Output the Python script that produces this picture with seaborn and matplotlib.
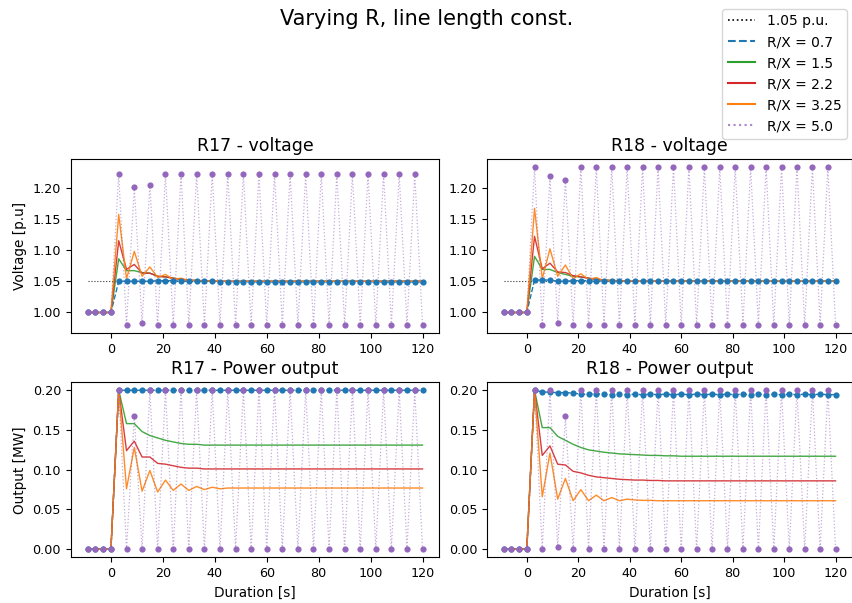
import numpy as np
import matplotlib
matplotlib.use("Agg")
import matplotlib.pyplot as plt
import seaborn as sns
from matplotlib.lines import Line2D

# ==============================
# DATA
# ==============================
t = list(range(-9, 121, 3))  # sampling times [s]

labels = ["R/X = 0.7", "R/X = 1.5", "R/X = 2.2", "R/X = 3.25", "R/X = 5.0"]
ref_level = 1.05

pre_v = [1.0, 1.0, 1.0, 1.0]
pre_p = [0.0, 0.0, 0.0, 0.0]

# R17 voltage
v17_07 = pre_v + [1.050, 1.050, 1.050, 1.050, 1.050, 1.051, 1.051, 1.051, 1.050, 1.050,
                  1.050, 1.050, 1.050, 1.049, 1.049, 1.049, 1.049, 1.049, 1.049, 1.049,
                  1.049, 1.049, 1.049, 1.049, 1.049, 1.049, 1.049, 1.049, 1.049, 1.049,
                  1.049, 1.049, 1.049, 1.049, 1.049, 1.049, 1.049, 1.049, 1.049, 1.049]
v17_15 = pre_v + [1.086, 1.067, 1.067, 1.064, 1.063, 1.058, 1.057, 1.055, 1.053, 1.052,
                  1.051, 1.051, 1.050, 1.050, 1.050, 1.050, 1.050, 1.050, 1.050, 1.050,
                  1.050, 1.050, 1.050, 1.050, 1.050, 1.050, 1.050, 1.050, 1.050, 1.050,
                  1.050, 1.050, 1.050, 1.050, 1.050, 1.050, 1.050, 1.050, 1.050, 1.050]
v17_22 = pre_v + [1.115, 1.069, 1.077, 1.063, 1.063, 1.058, 1.057, 1.055, 1.053, 1.052,
                  1.051, 1.051, 1.050, 1.050, 1.050, 1.050, 1.050, 1.050, 1.050, 1.050,
                  1.050, 1.050, 1.050, 1.050, 1.050, 1.050, 1.050, 1.050, 1.050, 1.050,
                  1.050, 1.050, 1.050, 1.050, 1.050, 1.050, 1.050, 1.050, 1.050, 1.050]
v17_325 = pre_v + [1.157, 1.054, 1.098, 1.058, 1.073, 1.056, 1.061, 1.053, 1.055, 1.051,
                   1.052, 1.050, 1.051, 1.050, 1.050, 1.050, 1.050, 1.050, 1.050, 1.050,
                   1.050, 1.050, 1.050, 1.050, 1.050, 1.050, 1.050, 1.050, 1.050, 1.050,
                   1.050, 1.050, 1.050, 1.050, 1.050, 1.050, 1.050, 1.050, 1.050, 1.050]
v17_50 = pre_v + [1.222, 0.980, 1.201, 0.983, 1.205, 0.980, 1.222, 0.980, 1.222, 0.980,
                  1.222, 0.980, 1.222, 0.980, 1.222, 0.980, 1.222, 0.980, 1.222, 0.980,
                  1.222, 0.980, 1.222, 0.980, 1.222, 0.980, 1.222, 0.980, 1.222, 0.980,
                  1.222, 0.980, 1.222, 0.980, 1.222, 0.980, 1.222, 0.980, 1.222, 0.980]

# R18 voltage
v18_07 = pre_v + [1.052, 1.052, 1.052, 1.050, 1.050, 1.051, 1.051, 1.051, 1.050, 1.050,
                  1.050, 1.050, 1.050, 1.050, 1.050, 1.050, 1.050, 1.050, 1.050, 1.050,
                  1.050, 1.050, 1.050, 1.050, 1.050, 1.050, 1.050, 1.050, 1.050, 1.050,
                  1.050, 1.050, 1.050, 1.050, 1.050, 1.050, 1.050, 1.050, 1.050, 1.050]
v18_15 = pre_v + [1.090, 1.069, 1.069, 1.064, 1.061, 1.058, 1.057, 1.055, 1.053, 1.052,
                  1.051, 1.051, 1.050, 1.050, 1.050, 1.050, 1.050, 1.050, 1.050, 1.050,
                  1.050, 1.050, 1.050, 1.050, 1.050, 1.050, 1.050, 1.050, 1.050, 1.050,
                  1.050, 1.050, 1.050, 1.050, 1.050, 1.050, 1.050, 1.050, 1.050, 1.050]
v18_22 = pre_v + [1.122, 1.070, 1.079, 1.065, 1.064, 1.059, 1.057, 1.055, 1.053, 1.052,
                  1.051, 1.051, 1.050, 1.050, 1.050, 1.050, 1.050, 1.050, 1.050, 1.050,
                  1.050, 1.050, 1.050, 1.050, 1.050, 1.050, 1.050, 1.050, 1.050, 1.050,
                  1.050, 1.050, 1.050, 1.050, 1.050, 1.050, 1.050, 1.050, 1.050, 1.050]
v18_325 = pre_v + [1.167, 1.054, 1.102, 1.058, 1.076, 1.054, 1.062, 1.053, 1.056, 1.051,
                   1.052, 1.050, 1.051, 1.050, 1.050, 1.050, 1.050, 1.050, 1.050, 1.050,
                   1.050, 1.050, 1.050, 1.050, 1.050, 1.050, 1.050, 1.050, 1.050, 1.050,
                   1.050, 1.050, 1.050, 1.050, 1.050, 1.050, 1.050, 1.050, 1.050, 1.050]
v18_50 = pre_v + [1.233, 0.980, 1.218, 0.983, 1.212, 0.980, 1.233, 0.980, 1.233, 0.980,
                  1.233, 0.980, 1.233, 0.980, 1.233, 0.980, 1.233, 0.980, 1.233, 0.980,
                  1.233, 0.980, 1.233, 0.980, 1.233, 0.980, 1.233, 0.980, 1.233, 0.980,
                  1.233, 0.980, 1.233, 0.980, 1.233, 0.980, 1.233, 0.980, 1.233, 0.980]

# R17 power output
p17_07 = pre_p + [0.200] * 40
p17_15 = pre_p + [0.200, 0.158, 0.158, 0.148, 0.143, 0.140, 0.137, 0.135, 0.133, 0.132,
                  0.132, 0.131, 0.131, 0.131, 0.131, 0.131, 0.131, 0.131, 0.131, 0.131,
                  0.131, 0.131, 0.131, 0.131, 0.131, 0.131, 0.131, 0.131, 0.131, 0.131,
                  0.131, 0.131, 0.131, 0.131, 0.131, 0.131, 0.131, 0.131, 0.131, 0.131]
p17_22 = pre_p + [0.200, 0.124, 0.136, 0.116, 0.116, 0.108, 0.107, 0.105, 0.103, 0.102,
                  0.102, 0.101, 0.101, 0.101, 0.101, 0.101, 0.101, 0.101, 0.101, 0.101,
                  0.101, 0.101, 0.101, 0.101, 0.101, 0.101, 0.101, 0.101, 0.101, 0.101,
                  0.101, 0.101, 0.101, 0.101, 0.101, 0.101, 0.101, 0.101, 0.101, 0.101]
p17_325 = pre_p + [0.200, 0.076, 0.128, 0.073, 0.099, 0.072, 0.087, 0.074, 0.082, 0.074,
                   0.079, 0.075, 0.078, 0.076, 0.077, 0.077, 0.077, 0.077, 0.077, 0.077,
                   0.077, 0.077, 0.077, 0.077, 0.077, 0.077, 0.077, 0.077, 0.077, 0.077,
                   0.077, 0.077, 0.077, 0.077, 0.077, 0.077, 0.077, 0.077, 0.077, 0.077]
p17_50 = pre_p + [0.200, 0.000, 0.167, 0.000, 0.200, 0.000, 0.200, 0.000, 0.200, 0.000,
                  0.200, 0.000, 0.200, 0.000, 0.200, 0.000, 0.200, 0.000, 0.200, 0.000,
                  0.200, 0.000, 0.200, 0.000, 0.200, 0.000, 0.200, 0.000, 0.200, 0.000,
                  0.200, 0.000, 0.200, 0.000, 0.200, 0.000, 0.200, 0.000, 0.200, 0.000]

# R18 power output
p18_07 = pre_p + [0.200, 0.198, 0.1975, 0.197, 0.197, 0.1965, 0.195, 0.195, 0.1955, 0.195,
                  0.1945, 0.195, 0.1945, 0.195, 0.1945, 0.195, 0.1945, 0.195, 0.1945, 0.195,
                  0.1945, 0.195, 0.1945, 0.195, 0.1945, 0.195, 0.1945, 0.195, 0.1945, 0.195,
                  0.1945, 0.195, 0.1945, 0.195, 0.1945, 0.195, 0.1945, 0.195, 0.1945, 0.1945]
p18_15 = pre_p + [0.200, 0.153, 0.153, 0.142, 0.137, 0.132, 0.128, 0.125, 0.1235, 0.122,
                  0.121, 0.120, 0.1195, 0.119, 0.1185, 0.118, 0.118, 0.1175, 0.1175, 0.117,
                  0.117, 0.117, 0.117, 0.117, 0.117, 0.117, 0.117, 0.117, 0.117, 0.117,
                  0.117, 0.117, 0.117, 0.117, 0.117, 0.117, 0.117, 0.117, 0.117, 0.117]
p18_22 = pre_p + [0.200, 0.118, 0.130, 0.107, 0.106, 0.098, 0.096, 0.093, 0.091, 0.090,
                  0.089, 0.088, 0.0875, 0.087, 0.087, 0.0865, 0.0865, 0.086, 0.086, 0.086,
                  0.086, 0.086, 0.086, 0.086, 0.086, 0.086, 0.086, 0.086, 0.086, 0.086,
                  0.086, 0.086, 0.086, 0.086, 0.086, 0.086, 0.086, 0.086, 0.086, 0.086]
p18_325 = pre_p + [0.200, 0.066, 0.121, 0.063, 0.089, 0.061, 0.075, 0.061, 0.068, 0.061,
                   0.065, 0.061, 0.063, 0.062, 0.0615, 0.0615, 0.061, 0.061, 0.061, 0.061,
                   0.061, 0.061, 0.061, 0.061, 0.061, 0.061, 0.061, 0.061, 0.061, 0.061,
                   0.061, 0.061, 0.061, 0.061, 0.061, 0.061, 0.061, 0.061, 0.061, 0.061]
p18_50 = pre_p + [0.200, 0.000, 0.200, 0.003, 0.167, 0.000, 0.200, 0.000, 0.200, 0.000,
                  0.200, 0.000, 0.200, 0.000, 0.200, 0.000, 0.200, 0.000, 0.200, 0.000,
                  0.200, 0.000, 0.200, 0.000, 0.200, 0.000, 0.200, 0.000, 0.200, 0.000,
                  0.200, 0.000, 0.200, 0.000, 0.200, 0.000, 0.200, 0.000, 0.200, 0.000]

# ==============================
# STYLE
# ==============================
colors = ["tab:blue", "tab:green", "tab:red", "tab:orange", "tab:purple"]
styles = ["--", "-", "-", "-", ":"]
markers = ["o", None, None, None, "o"]
widths = [1.0, 1.0, 1.0, 1.0, 0.9]
alphas = [1.0, 0.9, 0.9, 0.9, 0.55]

plt.rcParams["font.family"] = ["DejaVu Sans"]

fig = plt.figure(figsize=(8.53, 6.03), dpi=100)
ax_v17 = fig.add_axes([0.083, 0.448, 0.432, 0.288])
ax_v18 = fig.add_axes([0.571, 0.448, 0.428, 0.288])
ax_p17 = fig.add_axes([0.083, 0.076, 0.432, 0.290])
ax_p18 = fig.add_axes([0.571, 0.076, 0.428, 0.290])
ax_v18.sharey(ax_v17)
ax_p18.sharey(ax_p17)

panels = [
    (ax_v17, "R17 - voltage", [v17_07, v17_15, v17_22, v17_325, v17_50], True),
    (ax_v18, "R18 - voltage", [v18_07, v18_15, v18_22, v18_325, v18_50], True),
    (ax_p17, "R17 - Power output", [p17_07, p17_15, p17_22, p17_325, p17_50], False),
    (ax_p18, "R18 - Power output", [p18_07, p18_15, p18_22, p18_325, p18_50], False),
]

for ax, title, series, is_volt in panels:
    if is_volt:
        sns.lineplot(x=t, y=[ref_level] * len(t), ax=ax, color="black",
                     linestyle=":", linewidth=0.8, alpha=0.8, legend=False)
    for vals, c, ls, m, lw, a in zip(series, colors, styles, markers, widths, alphas):
        sns.lineplot(x=t, y=vals, ax=ax, color=c, linestyle=ls, linewidth=lw,
                     alpha=a, legend=False)
        if m is not None:
            # solid markers on top of the (possibly faint) line
            sns.scatterplot(x=t, y=vals, ax=ax, color=c, marker=m, s=20,
                            linewidth=0, zorder=2.5, legend=False)
    ax.set_title(title, fontsize=12.5)
    ax.tick_params(labelsize=9.2)
    ax.set_xticks([0, 20, 40, 60, 80, 100, 120])

ax_v17.set_yticks([1.00, 1.05, 1.10, 1.15, 1.20])
ax_p17.set_yticks([0.00, 0.05, 0.10, 0.15, 0.20])
ax_v17.set_ylabel("Voltage [p.u]", fontsize=9.8)
ax_p17.set_ylabel("Output [MW]", fontsize=9.8)
ax_p17.set_xlabel("Duration [s]", fontsize=9.8)
ax_p18.set_xlabel("Duration [s]", fontsize=9.8)

handles = [Line2D([], [], color="black", linestyle=":", linewidth=1.2, label="1.05 p.u.")]
for lab, c, ls in zip(labels, colors, styles):
    handles.append(Line2D([], [], color=c, linestyle=ls, linewidth=1.5, label=lab,
                          alpha=0.8 if ls == ":" else 1.0))
fig.legend(handles=handles, loc="upper right", bbox_to_anchor=(1.001, 0.997),
           fontsize=10)

fig.suptitle("Varying R, line length const.", fontsize=15, y=0.985)

fig.savefig("out.png", dpi=100)
